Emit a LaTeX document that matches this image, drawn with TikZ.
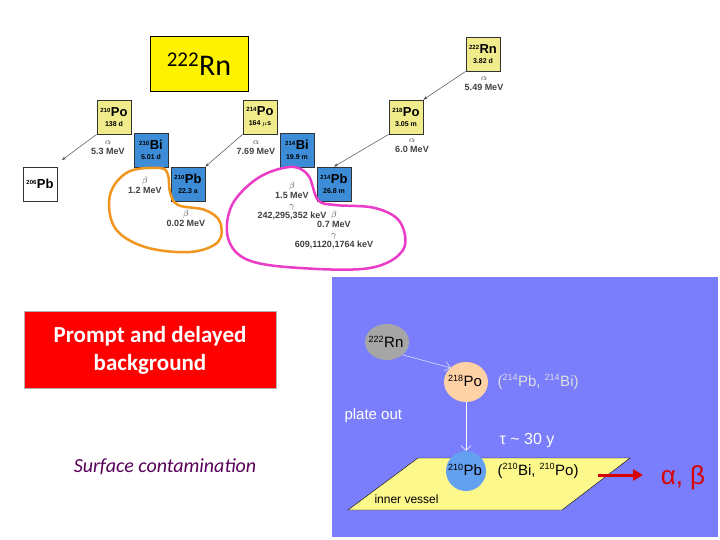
\documentclass[tikz,border=0pt]{standalone}
\usepackage{fontspec}
\setmainfont{Liberation Sans}
\newfontfamily\carl{Carlito}
\usetikzlibrary{arrows.meta,shapes.geometric}
\definecolor{ybox}{RGB}{240,236,140}
\definecolor{bbox}{RGB}{60,140,215}
\definecolor{panel}{RGB}{122,126,252}
\definecolor{org}{RGB}{240,150,30}
\definecolor{mag}{RGB}{235,60,200}
\definecolor{pbc}{RGB}{100,160,240}
\definecolor{vess}{RGB}{252,248,140}
\begin{document}
\begin{tikzpicture}[x=1pt,y=-1pt,
 nuc/.style={draw=black!80,line width=0.8pt,minimum size=34pt,inner sep=0pt,font=\bfseries\fontsize{13}{12}\selectfont,align=center},
 yn/.style={nuc,fill=ybox},bn/.style={nuc,fill=bbox},
 lab/.style={font=\bfseries\fontsize{9}{10}\selectfont,align=center,text=black!75,inner sep=0pt},
 dec/.style={draw=black!70,line width=0.5pt,-{Stealth[length=4pt]}},
 pt/.style={font=\fontsize{15}{15}\selectfont},
 wt/.style={text=white}]
\useasboundingbox (0,0) rectangle (720,540);
\fill[white] (0,0) rectangle (720,540);
\newcommand\iso[3]{\textsuperscript{\fontsize{6}{6}\selectfont #1}#2\\[-2pt]{\fontsize{7}{7}\selectfont #3}}
\newcommand\mysup[1]{\textsuperscript{\fontsize{9}{9}\selectfont #1}}
% title
\node[draw,fill=yellow,minimum width=98pt,minimum height=55pt,font=\carl\fontsize{30}{30}\selectfont] (t) at (199,64) {\textsuperscript{222}Rn};
% chain
\node[yn] (rn) at (483,54) {\iso{222}{Rn}{3.82 d}};
\node[yn] (po218) at (406,117) {\iso{218}{Po}{3.05 m}};
\node[bn] (pb214) at (334,184) {\iso{214}{Pb}{26.8 m}};
\node[bn] (bi214) at (297,150) {\iso{214}{Bi}{19.9 m}};
\node[yn] (po214) at (260,117) {\iso{214}{Po}{164 $\mu$s}};
\node[bn] (pb210) at (188,184) {\iso{210}{Pb}{22.3 a}};
\node[bn] (bi210) at (151,150) {\iso{210}{Bi}{5.01 d}};
\node[yn] (po210) at (114,117) {\iso{210}{Po}{138 d}};
\node[nuc,fill=white] (pb206) at (40,184) {\textsuperscript{\fontsize{6}{6}\selectfont 206}Pb};
\coordinate (e206) at (62,160);
\draw[dec] (rn.south west) -- (po218.north east);
\draw[dec] (po218.south west) -- (pb214.north);
\draw[dec] (po214.south west) -- (pb210.north east);
\draw[dec] (po210.south west) -- (e206);
\node[lab] (l1) at (484,84) {$\alpha$\\5.49 MeV};
\node[lab] (l2) at (412,146) {$\alpha$\\6.0 MeV};
\node[lab] (l3) at (256,148) {$\alpha$\\7.69 MeV};
\node[lab] (l4) at (108,148) {$\alpha$\\5.3 MeV};
\node[lab] (l5) at (145,185) {$\beta$\\1.2 MeV};
\node[lab] (l6) at (186,218) {$\beta$\\0.02 MeV};
\node[lab] (l7) at (292,201) {$\beta$\\1.5 MeV\\$\gamma$\\242,295,352 keV};
\node[lab] (l8) at (334,230) {$\beta$\\0.7 MeV\\$\gamma$\\609,1120,1764 keV};
% loops
\draw[org,line width=2.5pt] plot[smooth cycle,tension=0.6] coordinates{(160,168)(128,172)(110,195)(115,228)(145,247)(190,252)(218,242)(220,222)(205,210)(178,205)(170,192)(168,175)};
\draw[mag,line width=2.5pt] plot[smooth cycle,tension=0.6] coordinates{(318,200)(308,175)(290,167)(258,178)(232,205)(228,238)(248,260)(300,268)(370,268)(403,250)(400,222)(375,208)(335,205)};
% red box
\node[fill=red,draw=black!30,minimum width=252pt,minimum height=77pt,text=white,align=center,font=\carl\bfseries\fontsize{23}{28}\selectfont] (rb) at (150,350) {Prompt and delayed\\background};
\node[text=violet!70!black,font=\carl\itshape\fontsize{20}{20}\selectfont] (sc) at (165,467) {Surface contamination};
% panel
\fill[panel] (332,277) rectangle (718,537);
\draw[black,fill=vess] (348,510) -- (562,510) -- (630,458) -- (418,458) -- cycle;
\node[font=\fontsize{12}{12}\selectfont,anchor=west] (iv) at (371,499) {inner vessel};
\node[ellipse,fill=gray!70,minimum width=44pt,minimum height=36pt,inner sep=0pt] (crn) at (387,342) {};
\node[pt] (trn) at (386,342) {\mysup{222}Rn};
\node[ellipse,fill=orange!35,minimum width=44pt,minimum height=40pt,inner sep=0pt] (cpo) at (466,382) {};
\node[pt] (tpo) at (465,381) {\mysup{218}Po};
\node[circle,fill=pbc,minimum size=40pt,inner sep=0pt] (cpb) at (466,471) {};
\node[pt] (tpb) at (465,470) {\mysup{210}Pb};
\draw[white,-{Straight Barb[length=5pt]}] (crn.south east) -- (cpo.north west);
\draw[white,-{Straight Barb[length=5pt]}] (cpo.south) -- (cpb.north);
\node[pt,text=gray!25,anchor=west] (ob) at (494,382) {(\mysup{214}Pb, \mysup{214}Bi)};
\node[wt,font=\fontsize{15}{15}\selectfont,anchor=west] (plo) at (341,416) {plate out};
\node[wt,font=\fontsize{16}{16}\selectfont] (tau) at (527,441) {τ \textasciitilde{} 30 y};
\node[pt,anchor=west] (bp) at (494,471) {(\mysup{210}Bi, \mysup{210}Po)};
\coordinate (ar0) at (598,475);
\draw[red!85!black,line width=3pt,-{Triangle[length=10pt,width=11pt]}] (ar0) -- (643,475);
\node[text=red!85!black,font=\fontsize{26}{26}\selectfont] (ab) at (683,478) {α, β};
\end{tikzpicture}
\end{document}
